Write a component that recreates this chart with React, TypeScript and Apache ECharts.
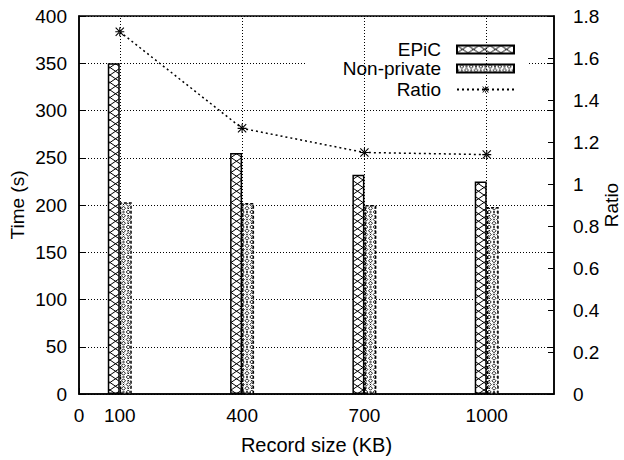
import React, { useEffect, useRef } from "react";
import * as echarts from "echarts";

const recordSizes = [100, 400, 700, 1000];
const epicTimes = [350, 255, 232, 225];
const nonPrivateTimes = [203, 202, 200, 198];
const ratios = [1.725, 1.265, 1.15, 1.14];
const xTickValues = [0, 100, 400, 700, 1000];
const seriesNames = ["EPiC", "Non-private", "Ratio"];

const FONT = "'Liberation Sans', Arial, Helvetica, sans-serif";

function makeEpicPattern() {
  const w = 11, h = 7.5;
  const c = document.createElement("canvas");
  c.width = 22; c.height = 15;
  const ctx = c.getContext("2d")!;
  ctx.fillStyle = "#fff";
  ctx.fillRect(0, 0, c.width, c.height);
  ctx.strokeStyle = "#000";
  ctx.lineWidth = 1;
  for (let i = -1; i <= 2; i++) {
    for (let j = -1; j <= 2; j++) {
      ctx.beginPath();
      ctx.moveTo(i * w, j * h);
      ctx.lineTo((i + 1) * w, (j + 1) * h);
      ctx.moveTo((i + 1) * w, j * h);
      ctx.lineTo(i * w, (j + 1) * h);
      ctx.stroke();
    }
  }
  return { image: c, repeat: "repeat", imageWidth: 22, imageHeight: 15 };
}

function makeNonPrivatePattern() {
  const w = 9.5, h = 7.5;
  const c = document.createElement("canvas");
  c.width = 19; c.height = 15;
  const ctx = c.getContext("2d")!;
  ctx.fillStyle = "#fff";
  ctx.fillRect(0, 0, c.width, c.height);
  ctx.strokeStyle = "#000";
  ctx.lineWidth = 0.9;
  const diamond = (x: number, y: number) => {
    ctx.beginPath();
    ctx.moveTo(x, y - 2);
    ctx.lineTo(x + 2, y);
    ctx.lineTo(x, y + 2);
    ctx.lineTo(x - 2, y);
    ctx.closePath();
    ctx.stroke();
  };
  const cross = (x: number, y: number) => {
    ctx.beginPath();
    ctx.moveTo(x - 0.8, y - 0.8);
    ctx.lineTo(x + 0.8, y + 0.8);
    ctx.moveTo(x + 0.8, y - 0.8);
    ctx.lineTo(x - 0.8, y + 0.8);
    ctx.stroke();
  };
  for (let i = -1; i <= 2; i++) {
    for (let j = -1; j <= 2; j++) {
      diamond(i * w + 4.75, j * h + 2);
      cross(i * w + 4.75, j * h + 5.75);
      diamond(i * w, j * h + 5.75);
      cross(i * w, j * h + 2);
    }
  }
  return { image: c, repeat: "repeat", imageWidth: 19, imageHeight: 15 };
}

const asterisk =
  "path://M0,4.4L10,4.4L10,5.6L0,5.6Z M4.4,0L5.6,0L5.6,10L4.4,10Z M0,0.85L0.85,0L10,9.15L9.15,10Z M10,0.85L9.15,0L0,9.15L0.85,10Z";

export default function App() {
  const ref = useRef<HTMLDivElement>(null);
  useEffect(() => {
    if (!ref.current) return;
    const chart = echarts.init(ref.current, undefined, { renderer: "svg" });
    const epicPattern = makeEpicPattern();
    const npPattern = makeNonPrivatePattern();
    const legendCommon = {
      orient: "horizontal",
      align: "right",
      right: 109,
      padding: 0,
      itemWidth: 57,
      itemHeight: 8,
      selectedMode: false,
      textStyle: { fontFamily: FONT, fontSize: 19, color: "#000", padding: [0, 11, 0, 0] },
    };
    const option: any = {
      animation: false,
      backgroundColor: "#fff",
      textStyle: { fontFamily: FONT },
      grid: {
        left: 79, right: 70, top: 16, bottom: 66,
        containLabel: false,
        outerBoundsMode: "none",
        show: true, borderColor: "#000", borderWidth: 1.5, backgroundColor: "transparent",
      },
      graphic: [
        {
          type: "rect",
          z: 3,
          shape: { x: 307, y: 32, width: 220, height: 73 },
          style: { fill: "#fff" },
          silent: true,
        },
      ],
      legend: [
        { ...legendCommon, data: [{ name: seriesNames[0], icon: "rect" }], top: 40 },
        { ...legendCommon, data: [{ name: seriesNames[1], icon: "rect" }], top: 59 },
        { ...legendCommon, data: [seriesNames[2]], top: 80 },
      ],
      xAxis: {
        type: "value",
        min: 0,
        max: 1165,
        interval: 100,
        name: "Record size (KB)",
        nameLocation: "middle",
        nameGap: 41,
        nameMoveOverlap: false,
        nameTextStyle: { fontFamily: FONT, fontSize: 20, color: "#000" },
        axisLine: { show: true, lineStyle: { color: "#000", width: 1.5 } },
        axisTick: { show: true, inside: true, length: 6, customValues: xTickValues, lineStyle: { color: "#000" } },
        axisLabel: {
          customValues: xTickValues,
          margin: 12,
          fontFamily: FONT,
          fontSize: 19,
          color: "#000",
          formatter: (v: number) => (xTickValues.indexOf(v) >= 0 ? String(v) : ""),
        },
        splitLine: { show: false },
      },
      yAxis: [
        {
          type: "value",
          min: 0,
          max: 400,
          interval: 50,
          name: "Time (s)",
          nameLocation: "middle",
          nameGap: 52,
          nameMoveOverlap: false,
          nameTextStyle: { fontFamily: FONT, fontSize: 19, color: "#000" },
          axisLine: { show: true, lineStyle: { color: "#000", width: 1.5 } },
          axisTick: { show: true, inside: true, length: 6, lineStyle: { color: "#000" } },
          axisLabel: { margin: 12, fontFamily: FONT, fontSize: 19, color: "#000" },
          splitLine: { show: true, lineStyle: { color: "#000", width: 1, type: [1, 2] } },
        },
        {
          type: "value",
          position: "right",
          min: 0,
          max: 1.8,
          interval: 0.2,
          name: "Ratio",
          nameLocation: "middle",
          nameGap: 48,
          nameMoveOverlap: false,
          nameTextStyle: { fontFamily: FONT, fontSize: 19, color: "#000" },
          axisLine: { show: true, lineStyle: { color: "#000", width: 1.5 } },
          axisTick: { show: true, inside: true, length: 6, lineStyle: { color: "#000" } },
          axisLabel: { margin: 19, fontFamily: FONT, fontSize: 19, color: "#000" },
          splitLine: { show: false },
        },
        {
          type: "value",
          position: "right",
          min: 0,
          max: 400,
          interval: 50,
          axisLine: { show: false },
          axisTick: { show: true, inside: true, length: 6, lineStyle: { color: "#000" } },
          axisLabel: { show: false },
          splitLine: { show: false },
        },
      ],
      series: [
        {
          type: "line",
          z: 1,
          data: [],
          silent: true,
          markLine: {
            silent: true,
            symbol: "none",
            label: { show: false },
            lineStyle: { color: "#000", width: 1, type: [1, 2] },
            data: recordSizes.map((x) => ({ xAxis: x })),
          },
        },
        {
          name: seriesNames[0],
          type: "bar",
          z: 2,
          barWidth: 12,
          barGap: "0%",
          data: recordSizes.map((x, i) => [x, epicTimes[i]]),
          itemStyle: { color: epicPattern, borderColor: "#000", borderWidth: 1.5 },
        },
        {
          name: seriesNames[1],
          type: "bar",
          z: 2,
          barWidth: 12,
          barGap: "0%",
          data: recordSizes.map((x, i) => [x, nonPrivateTimes[i]]),
          itemStyle: { color: npPattern, borderColor: "#000", borderWidth: 1.5, borderType: [3, 2] },
        },
        {
          name: seriesNames[2],
          type: "line",
          yAxisIndex: 1,
          z: 5,
          data: recordSizes.map((x, i) => [x, ratios[i]]),
          symbol: asterisk,
          symbolSize: 9,
          showSymbol: true,
          itemStyle: { color: "#000", borderWidth: 0 },
          lineStyle: { color: "#000", width: 1.5, type: [2, 3] },
        },
      ],
    };
    chart.setOption(option);
    return () => chart.dispose();
  }, []);
  return (
    <div
      ref={ref}
      style={{ position: "fixed", left: 0, top: 0, width: 624, height: 460 }}
    />
  );
}
